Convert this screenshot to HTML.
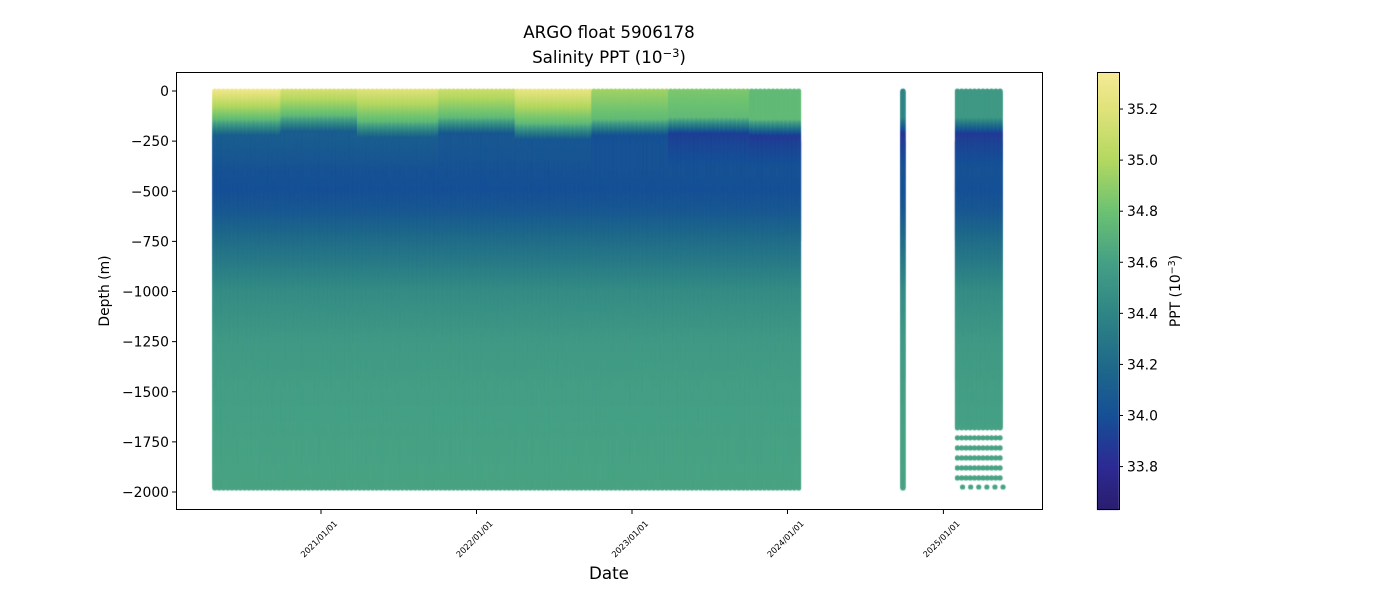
<!DOCTYPE html>
<html><head><meta charset="utf-8"><style>
body{margin:0;background:#fff;font-family:"DejaVu Sans","Liberation Sans",sans-serif;}
#wrap{position:relative;width:1400px;height:600px;overflow:hidden;}
canvas,svg{position:absolute;left:0;top:0;}
svg text{font-family:"DejaVu Sans","Liberation Sans",sans-serif;}
</style></head><body>
<div id="wrap">
<canvas id="cv" width="1400" height="600"></canvas>
<svg id="sv" width="1400" height="600"></svg>
</div>
<script>
// ---- data ----
const segStart = ["2020-04-27","2024-09-28","2025-02-03"];
const segEnd   = ["2024-02-05","2024-09-28","2025-05-23"];
const cycleDays = [10,10,10];
const depthLevels = [0,-50,-100,-150,-200,-250,-300,-400,-500,-600,-750,-1000,-1250,-1500,-1750,-2000];
const baseSal     = [35.15,35.1,35.0,34.75,34.3,34.1,34.05,34.02,34.0,34.06,34.22,34.45,34.55,34.59,34.61,34.62];
const periodStart = ["2020-04-01","2020-10-01","2021-04-01","2021-10-01","2022-04-01","2022-10-01","2023-04-01","2023-10-01","2024-06-01","2025-01-01"];
const surfaceSal  = [35.3,35.15,35.2,35.1,35.25,34.95,34.85,34.75,34.4,34.55];
const mixedDepth  = [-150,-130,-160,-140,-170,-150,-140,-150,-140,-140];
const subMin      = [34.1,34.1,34.1,34.05,34.05,34.0,33.9,33.88,33.85,33.88];
const yTicks = [0,-250,-500,-750,-1000,-1250,-1500,-1750,-2000];
const xTicks = ["2021/01/01","2022/01/01","2023/01/01","2024/01/01","2025/01/01"];
const cbTicks = [33.8,34.0,34.2,34.4,34.6,34.8,35.0,35.2];

// ---- scales ----
const X0=176,X1=1043,Y0=72,Y1=510;
const ref=Date.parse("2021-01-01");
function xOf(s){return 321+(Date.parse(s.replace(/\//g,"-"))-ref)/864e5/365.25*155.6;}
function xOfT(t){return 321+(t-ref)/864e5/365.25*155.6;}
function yOf(v){return 91-v*0.2005;}
const CB0=33.63,CB1=35.345;
function cbY(v){return 510-(v-CB0)/(CB1-CB0)*438;}
const cmapV=[33.63,33.8,34.0,34.2,34.4,34.6,34.8,35.0,35.2,35.345];
const cmapC=[[42,29,110],[44,42,148],[22,80,150],[31,106,138],[47,133,133],[69,160,133],[108,194,114],[180,216,96],[224,226,122],[246,234,150]];
function color(v){
  if(v<=cmapV[0])return cmapC[0];
  for(let i=1;i<cmapV.length;i++){if(v<=cmapV[i]){const f=(v-cmapV[i-1])/(cmapV[i]-cmapV[i-1]);const a=cmapC[i-1],b=cmapC[i];return [0,1,2].map(k=>Math.round(a[k]+(b[k]-a[k])*f));}}
  return cmapC[cmapC.length-1];
}
function baseAt(d){for(let i=1;i<depthLevels.length;i++){if(d>=depthLevels[i]){const f=(d-depthLevels[i-1])/(depthLevels[i]-depthLevels[i-1]);return baseSal[i-1]+(baseSal[i]-baseSal[i-1])*f;}}return baseSal[baseSal.length-1];}
function period(t){let k=0;for(let i=0;i<periodStart.length;i++)if(t>=Date.parse(periodStart[i]))k=i;return k;}
function sal(t,d){
  const k=period(t);const md=mixedDepth[k];const ss=surfaceSal[k];
  const bot=Math.min(ss,34.75);
  if(d>md){return ss+(bot-ss)*(d/md);}
  if(d>md-80){const f=(md-d)/80;return bot*(1-f)+subMin[k]*f;}
  if(d>-400){const f=Math.min(1,(md-80-d)/(400+md-80));return subMin[k]*(1-f)+baseAt(d)*f;}
  return baseAt(d);
}
// ---- draw data ----
const cv=document.getElementById('cv');const cx=cv.getContext('2d');
function dot(x,d,v){const c=color(v);cx.fillStyle=`rgb(${c[0]},${c[1]},${c[2]})`;cx.beginPath();cx.arc(x,yOf(d),2.6,0,Math.PI*2);cx.fill();}
for(let s=0;s<segStart.length;s++){
  const t0=Date.parse(segStart[s]),t1=Date.parse(segEnd[s]);
  const maxD = s===2?-1680:-1980;
  for(let t=t0;t<=t1;t+=cycleDays[s]*864e5){
    const x=xOfT(t);
    for(let d=0;d>=maxD;d-=5){dot(x,d,sal(t,d));}
    if(s===2){
      const extra=[-1730,-1780,-1830,-1880,-1930];
      for(const d of extra){dot(x,d,sal(t,d));}
    }
  }
}
{const t0=Date.parse("2025-02-15");for(let i=0;i<6;i++){dot(xOfT(t0+i*19*864e5),-1975,34.62);}}
// colorbar
for(let y=72;y<510;y++){const c=color(CB0+(510-y-0.5)/438*(CB1-CB0));cx.fillStyle=`rgb(${c[0]},${c[1]},${c[2]})`;cx.fillRect(1097,y,22,1);}

// ---- axes svg ----
const sv=document.getElementById('sv');const NS="http://www.w3.org/2000/svg";
function el(tag,attrs,txt){const e=document.createElementNS(NS,tag);for(const k in attrs)e.setAttribute(k,attrs[k]);if(txt!==undefined)e.textContent=txt;sv.appendChild(e);return e;}
let e;
e=el('rect',{x:X0+0.5,y:Y0+0.5,width:X1-X0-1,height:Y1-Y0-1,fill:'none',stroke:'#000','stroke-width':1});


e=el('rect',{x:1097.5,y:72.5,width:22,height:437,fill:'none',stroke:'#000','stroke-width':1});


for(const v of yTicks){const y=yOf(v);
  el('line',{x1:X0-4,x2:X0,y1:y,y2:y,stroke:'#000'});
  e=el('text',{x:X0-7,y:y+5,'text-anchor':'end','font-size':13.9,fill:'#000'},String(v).replace('-','\u2212'));
  
  
}
for(const s of xTicks){const x=xOf(s);
  el('line',{x1:x,x2:x,y1:Y1,y2:Y1+4,stroke:'#000'});
  e=el('text',{x:x,y:Y1+31,'text-anchor':'middle','font-size':8.3,fill:'#000',transform:`rotate(-45 ${x} ${Y1+31})`},s);
  
  
}
for(const v of cbTicks){const y=cbY(v);
  el('line',{x1:1119,x2:1123,y1:y,y2:y,stroke:'#000'});
  e=el('text',{x:1127,y:y+5,'font-size':13.9,fill:'#000'},v.toFixed(1));
  
  
}
e=el('text',{x:609,y:38,'text-anchor':'middle','font-size':16.7},'ARGO float 5906178');


e=el('text',{x:609,y:63,'text-anchor':'middle','font-size':16.7});
e.innerHTML='Salinity PPT (10<tspan dy="-6" font-size="11.5">\u22123</tspan><tspan dy="6">)</tspan>';


e=el('text',{x:609,y:579,'text-anchor':'middle','font-size':16.7},'Date');


e=el('text',{x:109,y:291,'text-anchor':'middle','font-size':13.9,transform:'rotate(-90 109 291)'},'Depth (m)');


e=el('text',{x:1180,y:291,'text-anchor':'middle','font-size':13.9,transform:'rotate(-90 1180 291)'});
e.innerHTML='PPT (10<tspan dy="-5" font-size="9.5">\u22123</tspan><tspan dy="5">)</tspan>';


</script>
</body></html>
